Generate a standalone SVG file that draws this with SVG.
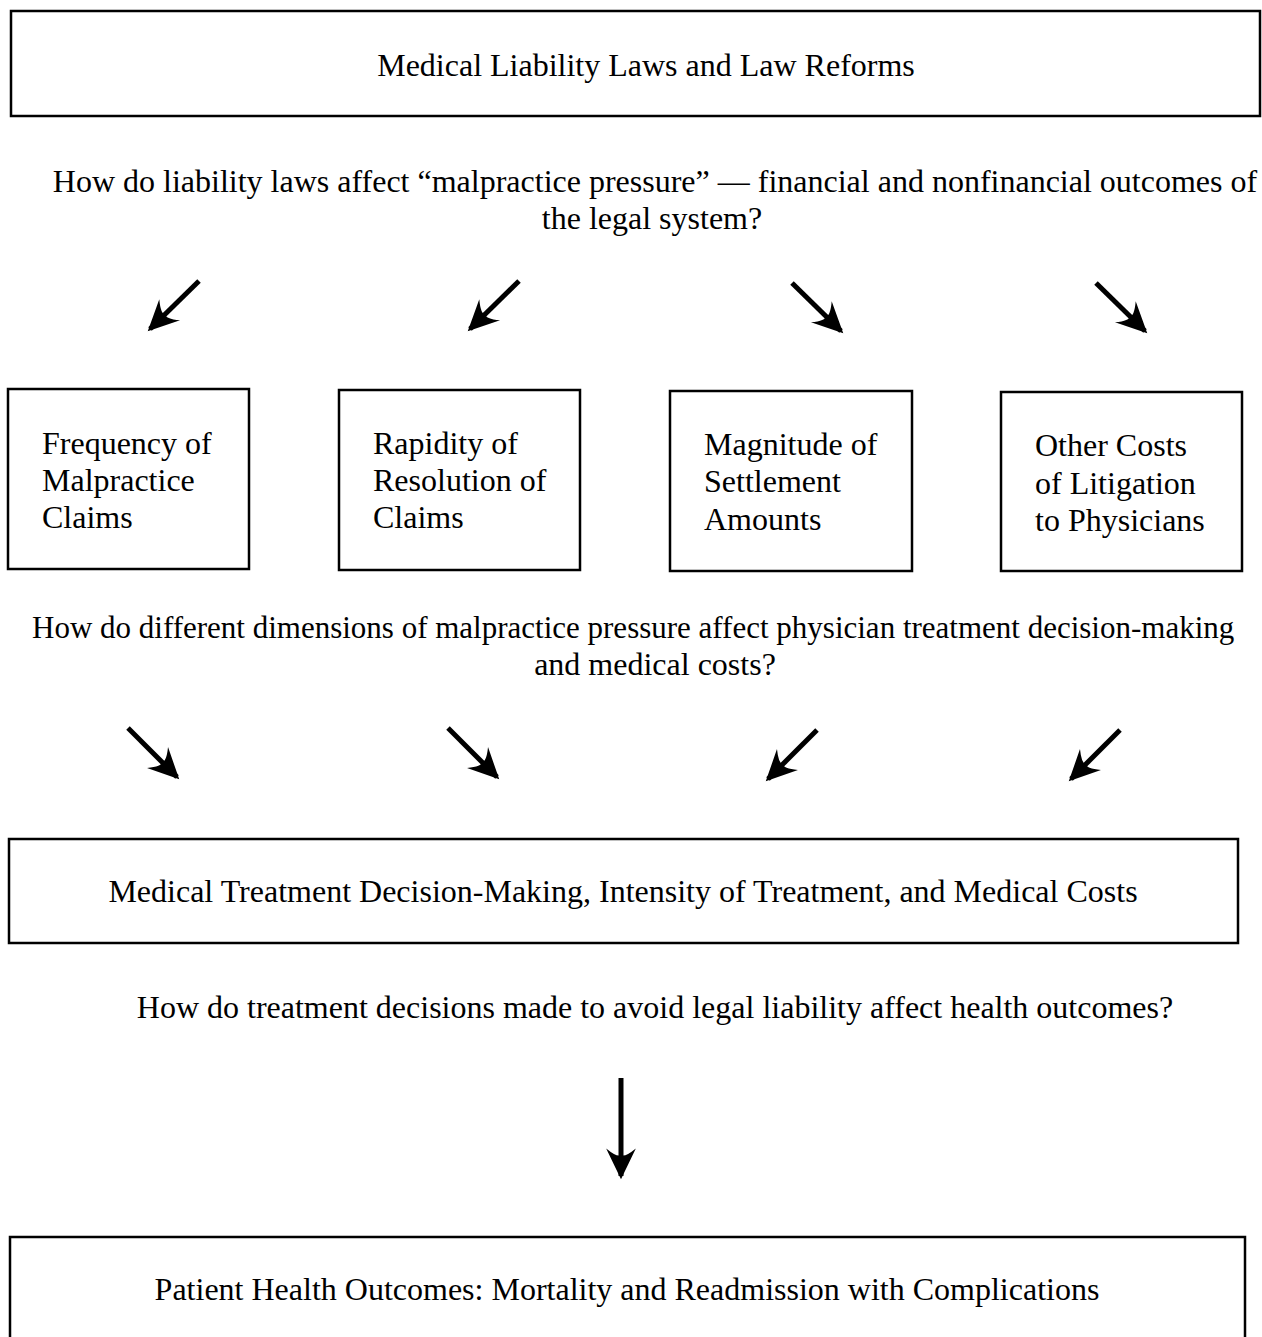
<svg xmlns="http://www.w3.org/2000/svg" width="1262" height="1337" viewBox="0 0 1262 1337">
<style>
.box{fill:#fff;stroke:#000;stroke-width:2.5}
text{font-family:"Liberation Serif","Times New Roman",serif;font-size:32px;fill:#000}
.c{text-anchor:middle}
.arr{stroke:#000;stroke-width:5;fill:none;marker-end:url(#ah)}
</style>
<defs>
<marker id="ah" markerUnits="userSpaceOnUse" markerWidth="36" markerHeight="36" viewBox="-30 -16 34 32" refX="0" refY="0" orient="auto">
<path d="M3,0 L-26,-14 Q-17,-3 -20,0 Q-17,3 -26,14 Z" fill="#000"/>
</marker>
</defs>
<rect width="1262" height="1337" fill="#fff"/>
<g id="n-laws"><rect class="box" x="11" y="11" width="1249" height="105"/><text class="c" x="646" y="76">Medical Liability Laws and Law Reforms</text></g>
<g id="q1"><text class="c" x="655" y="192">How do liability laws affect “malpractice pressure” — financial and nonfinancial outcomes of</text><text class="c" x="652" y="229">the legal system?</text></g>
<g id="n-freq"><rect class="box" x="8" y="389" width="241" height="180"/><text x="42" y="454">Frequency of</text><text x="42" y="491">Malpractice</text><text x="42" y="528">Claims</text></g>
<g id="n-rapid"><rect class="box" x="339" y="390" width="241" height="180"/><text x="373" y="454">Rapidity of</text><text x="373" y="491">Resolution of</text><text x="373" y="528">Claims</text></g>
<g id="n-mag"><rect class="box" x="670" y="391" width="242" height="180"/><text x="704" y="455">Magnitude of</text><text x="704" y="492">Settlement</text><text x="704" y="530">Amounts</text></g>
<g id="n-other"><rect class="box" x="1001" y="392" width="241" height="179"/><text x="1035" y="456">Other Costs</text><text x="1035" y="494">of Litigation</text><text x="1035" y="531">to Physicians</text></g>
<g id="q2"><text x="32" y="638" style="font-size:31px">How do different dimensions of malpractice pressure affect physician treatment decision-making</text><text class="c" x="655" y="675">and medical costs?</text></g>
<g id="n-treat"><rect class="box" x="9" y="839" width="1229" height="104"/><text class="c" x="623" y="902">Medical Treatment Decision-Making, Intensity of Treatment, and Medical Costs</text></g>
<g id="q3"><text class="c" x="655" y="1018">How do treatment decisions made to avoid legal liability affect health outcomes?</text></g>
<g id="n-health"><rect class="box" x="10" y="1237" width="1235" height="120"/><text class="c" x="627" y="1300">Patient Health Outcomes: Mortality and Readmission with Complications</text></g>
<g id="connectors">
<line class="arr" x1="199" y1="281" x2="150" y2="329"/>
<line class="arr" x1="519" y1="281" x2="470" y2="329"/>
<line class="arr" x1="792" y1="283" x2="841" y2="331"/>
<line class="arr" x1="1096" y1="283" x2="1145" y2="331"/>
<line class="arr" x1="128" y1="728" x2="177" y2="777"/>
<line class="arr" x1="448" y1="728" x2="497" y2="777"/>
<line class="arr" x1="817" y1="730" x2="768" y2="779"/>
<line class="arr" x1="1120" y1="730" x2="1071" y2="779"/>
<line class="arr" x1="621" y1="1078" x2="621" y2="1176"/>
</g>
</svg>
